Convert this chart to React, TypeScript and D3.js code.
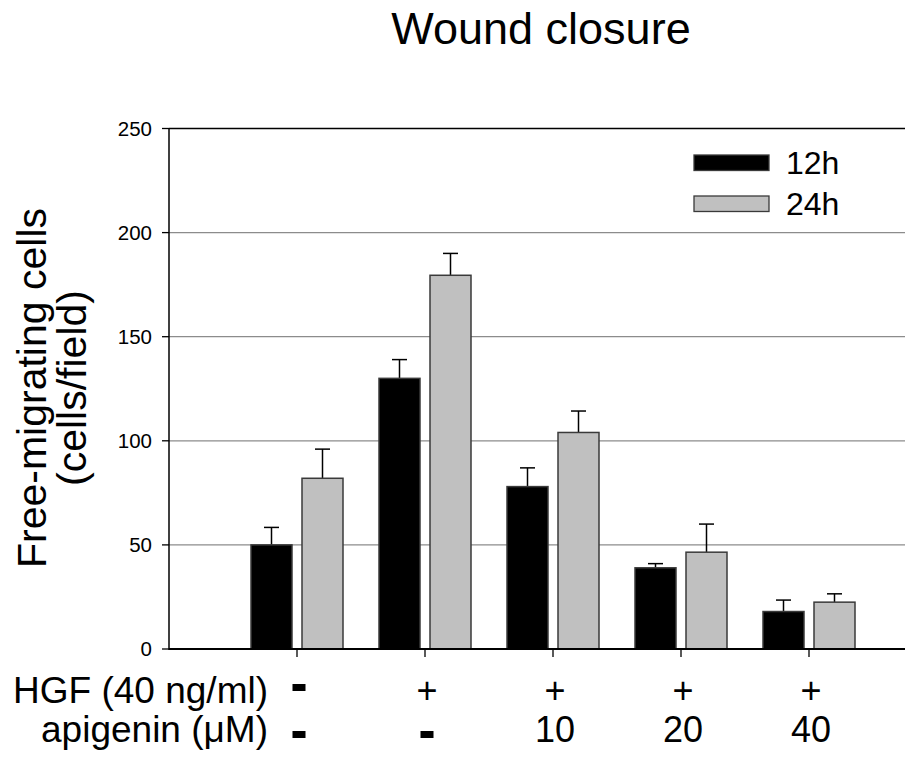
import React from "react";
import * as d3 from "d3";

const groups = ["g1", "g2", "g3", "g4", "g5"];
const hgfLabels = ["-", "+", "+", "+", "+"];
const apigeninLabels = ["-", "-", "10", "20", "40"];
const values12h = [50, 130, 78, 39, 18];
const errors12h = [8.4, 9, 9, 2, 5.5];
const values24h = [82, 179.5, 104, 46.5, 22.5];
const errors24h = [14, 10.5, 10.3, 13.5, 4];
const yTicks = [0, 50, 100, 150, 200, 250];
const gridValues = [50, 100, 150, 200];
const seriesNames = ["12h", "24h"];

const FONT = "'Liberation Sans', Arial, Helvetica, sans-serif";

export default function App() {
  const W = 905;
  const H = 758;
  const left = 169;
  const y = d3.scaleLinear().domain([0, 250]).range([649, 128.5]);
  const x = d3.scaleLinear().domain([0, 6]).range([left, left + 128 * 6]);
  const barW = 41;
  const halfGap = 5;
  const capW = 15;

  const series = [
    { name: seriesNames[0], vals: values12h, errs: errors12h, fill: "#000000", stroke: "#3a3a3a", dir: -1 },
    { name: seriesNames[1], vals: values24h, errs: errors24h, fill: "#c0c0c0", stroke: "#3a3a3a", dir: 1 },
  ];

  return (
    <svg
      width={W}
      height={H}
      style={{ position: "absolute", left: 0, top: 0, background: "#fff" }}
      fontFamily={FONT}
    >
      <rect x={0} y={0} width={W} height={H} fill="#fff" />
      {/* title */}
      <text x={541} y={44} fontSize={45} textAnchor="middle" fill="#000">
        Wound closure
      </text>

      {/* gridlines */}
      {gridValues.map((v) => (
        <line key={v} x1={left} x2={x(6)} y1={y(v)} y2={y(v)} stroke="#8c8c8c" strokeWidth={1.3} />
      ))}
      {/* top frame line */}
      <line x1={left} x2={x(6)} y1={y(250)} y2={y(250)} stroke="#000" strokeWidth={1.3} />

      {/* y axis */}
      <line x1={left} x2={left} y1={y(250)} y2={y(0) + 1} stroke="#000" strokeWidth={1.5} />
      {yTicks.map((t) => (
        <g key={t}>
          <line x1={left - 7} x2={left} y1={y(t)} y2={y(t)} stroke="#000" strokeWidth={1.3} />
          <text x={152} y={y(t)} dy="0.36em" fontSize={20.5} textAnchor="end" fill="#000">
            {t}
          </text>
        </g>
      ))}

      {/* bars */}
      {series.map((s) =>
        groups.map((g, i) => {
          const cx = x(i + 1);
          const bx = s.dir < 0 ? cx - halfGap - barW : cx + halfGap;
          const mid = bx + barW / 2;
          return (
            <g key={s.name + g}>
              <line x1={mid} x2={mid} y1={y(s.vals[i])} y2={y(s.vals[i] + s.errs[i])} stroke="#000" strokeWidth={1.5} />
              <line
                x1={mid - capW / 2}
                x2={mid + capW / 2}
                y1={y(s.vals[i] + s.errs[i])}
                y2={y(s.vals[i] + s.errs[i])}
                stroke="#000"
                strokeWidth={1.5}
              />
              <rect
                x={bx}
                y={y(s.vals[i])}
                width={barW}
                height={y(0) - y(s.vals[i])}
                fill={s.fill}
                stroke={s.stroke}
                strokeWidth={1.5}
              />
            </g>
          );
        })
      )}

      {/* x axis */}
      <line x1={left} x2={x(6)} y1={y(0)} y2={y(0)} stroke="#000" strokeWidth={2} />
      {groups.map((g, i) => (
        <line key={g} x1={x(i + 1)} x2={x(i + 1)} y1={y(0)} y2={y(0) + 8} stroke="#000" strokeWidth={1.3} />
      ))}

      {/* legend */}
      {series.map((s, k) => (
        <g key={s.name}>
          <rect x={694} y={155 + k * 41} width={75} height={15.5} fill={s.fill} stroke={s.stroke} strokeWidth={1.3} />
          <text x={786} y={174 + k * 40.5} fontSize={32} fill="#000">
            {s.name}
          </text>
        </g>
      ))}

      {/* y label */}
      <g transform={`translate(0, 388) rotate(-90)`}>
        <text x={0} y={46} fontSize={41} textAnchor="middle" fill="#000">
          Free-migrating cells
        </text>
        <text x={0} y={86} fontSize={41} textAnchor="middle" fill="#000">
          (cells/field)
        </text>
      </g>

      {/* bottom condition labels */}
      <text x={268} y={703} fontSize={37} textAnchor="end" fill="#000">
        HGF (40 ng/ml)
      </text>
      <text x={268} y={742} fontSize={37} textAnchor="end" fill="#000">
        apigenin (μM)
      </text>
      {groups.map((g, i) => {
        const cx = x(i + 1) + 2;
        const h = hgfLabels[i];
        const a = apigeninLabels[i];
        return (
          <g key={"lab" + g}>
            {h === "-" ? (
              <rect x={cx - 6.5} y={684} width={13} height={7} fill="#000" />
            ) : (
              <text x={cx} y={703} fontSize={36} textAnchor="middle" fill="#000">
                {h}
              </text>
            )}
            {a === "-" ? (
              <rect x={cx - 6.5} y={731} width={13} height={7} fill="#000" />
            ) : (
              <text x={cx} y={742} fontSize={36} textAnchor="middle" fill="#000">
                {a}
              </text>
            )}
          </g>
        );
      })}
    </svg>
  );
}
